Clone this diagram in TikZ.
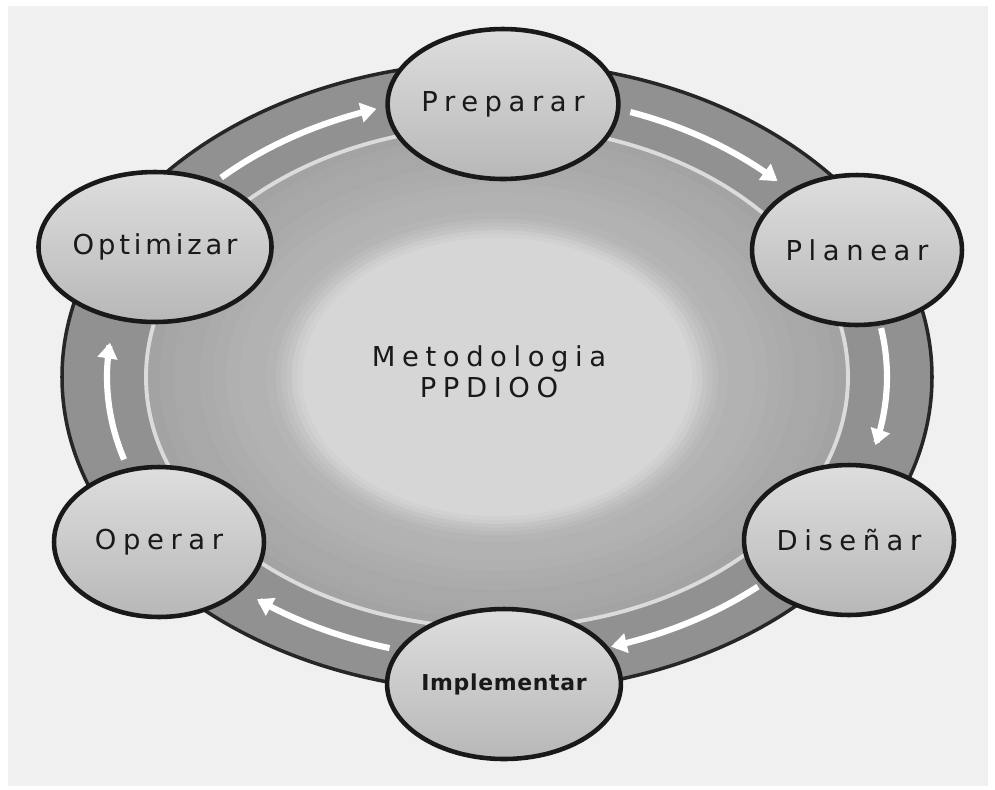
\documentclass[tikz,border=0pt]{standalone}
\usepackage{fontspec}
\setmainfont{DejaVu Sans}
\newfontfamily\stagefont[LetterSpace=24]{DejaVu Sans}
\newfontfamily\tightstagefont[LetterSpace=14]{DejaVu Sans}
\newfontfamily\narrowstagefont[LetterSpace=3]{DejaVu Sans}
\usetikzlibrary{shapes.geometric,arrows.meta}

\tikzset{
  stage/.style={ellipse, draw=black!90, line width=2.6pt, minimum width=4.2cm, minimum height=3cm,
    inner sep=0pt, top color=black!13, bottom color=black!28, text=black!90,
    font=\stagefont\fontsize{15.6}{18}\selectfont},
  flow/.style={white, line width=3.5pt, -{Triangle[length=9pt,width=11pt]}},
  centre label/.style={align=center, text=black!90, font=\stagefont\fontsize{15.6}{17.6}\selectfont}
}
\newcommand{\ringarrow}[2]{\draw[flow] plot[domain=#1:#2, samples=40] ({497+390*cos(\x)},{377-282*sin(\x)});}

\begin{document}
\begin{tikzpicture}[x=0.02cm, y=-0.02cm]
\fill[white] (0,0) rectangle (995,789);
\fill[black!6] (8,6) rectangle (988,786);

% ring and disk
\draw[black!85, line width=2pt, fill=black!43] (497,377) ellipse [x radius=435, y radius=315];
\foreach \k in {0,...,9}
  \fill[black!\the\numexpr36-\k*4/5\relax] (497,377) ellipse [x radius={351*(1-0.038*\k)}, y radius={251*(1-0.038*\k)}];
\foreach \k in {0,...,5}
  \fill[black!\the\numexpr27-\k*11/5\relax] (497,377) ellipse [x radius={351*(0.63-0.015*\k)}, y radius={251*(0.63-0.015*\k)}];
\draw[black!14, line width=2.2pt] (497,377) ellipse [x radius=351, y radius=251];

% arrows along the ring
\ringarrow{135}{108}
\ringarrow{70}{44}
\ringarrow{10}{-14}
\ringarrow{-48}{-73}
\ringarrow{-106}{-128}
\ringarrow{197}{173}

\node[centre label] (meth) at (489,372) {Metodologia\\PPDIOO};

% stages
\node[stage] (prep) at (503,104) {Preparar};
\node[stage] (plan) at (857,250) {Planear};
\node[stage] (dis) at (849,540) {Diseñar};
\node[stage, font=\narrowstagefont\bfseries\fontsize{12.5}{15}\selectfont] (impl) at (504,684) {Implementar};
\node[stage] (oper) at (159,542) {Operar};
\node[stage, font=\tightstagefont\fontsize{15.6}{18}\selectfont] (opt) at (155,247) {Optimizar};
\end{tikzpicture}
\end{document}
